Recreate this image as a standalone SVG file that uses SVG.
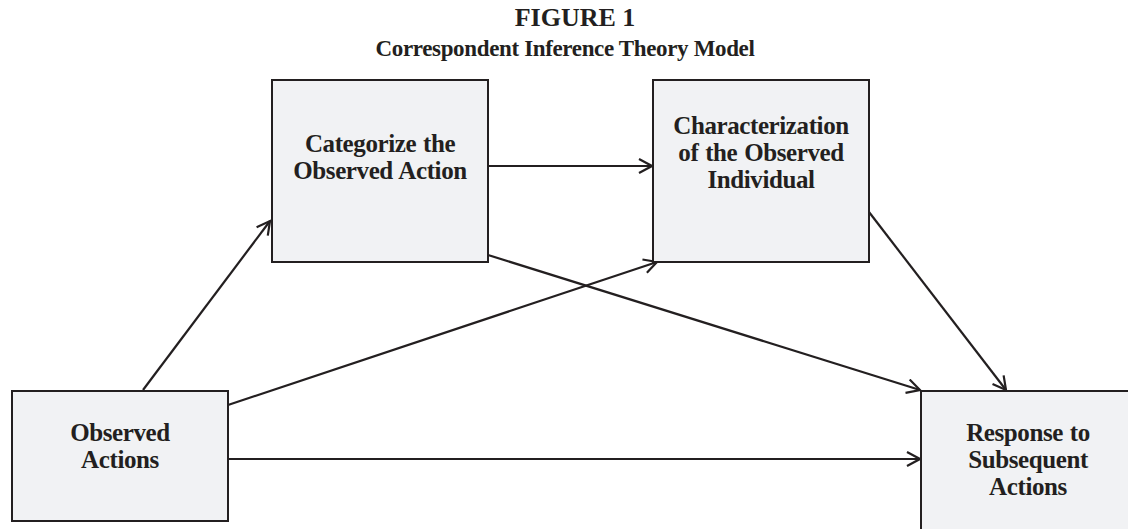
<svg xmlns="http://www.w3.org/2000/svg" width="1128" height="529" viewBox="0 0 1128 529">
<style>
.box{fill:#f1f2f4;stroke:#231f20;stroke-width:2}
.lbl{font-family:"Liberation Serif","Times New Roman",serif;font-weight:bold;font-size:25px;letter-spacing:-0.4px;word-spacing:1px;fill:#231f20;text-anchor:middle}
.ttl{font-family:"Liberation Serif","Times New Roman",serif;font-weight:bold;fill:#231f20;text-anchor:middle}
.edge{stroke:#231f20;stroke-width:2.2;fill:none;marker-end:url(#arr)}
</style>
<defs>
<marker id="arr" markerWidth="16" markerHeight="16" refX="14" refY="8" orient="auto" markerUnits="userSpaceOnUse">
<path d="M1,1 L14,8 L1,15" fill="none" stroke="#231f20" stroke-width="2.2"/>
</marker>
</defs>
<rect width="1128" height="529" fill="#ffffff"/>
<g id="title">
<text class="ttl" x="575" y="26" font-size="26">FIGURE 1</text>
<text class="ttl" x="565" y="56" font-size="23" letter-spacing="-0.35">Correspondent Inference Theory Model</text>
</g>
<g id="connectors">
<line class="edge" x1="143" y1="390" x2="270" y2="221"/>
<line class="edge" x1="488" y1="166" x2="652" y2="166"/>
<line class="edge" x1="488" y1="255" x2="920" y2="390"/>
<line class="edge" x1="228" y1="405" x2="657" y2="262"/>
<line class="edge" x1="869" y1="212" x2="1006" y2="390"/>
<line class="edge" x1="228" y1="459" x2="920" y2="459"/>
</g>
<g id="node-categorize">
<rect class="box" x="272" y="80" width="216" height="182"/>
<text class="lbl" x="380" y="152">Categorize the</text>
<text class="lbl" x="380" y="179">Observed Action</text>
</g>
<g id="node-characterization">
<rect class="box" x="653" y="80" width="216" height="182"/>
<text class="lbl" x="761" y="134">Characterization</text>
<text class="lbl" x="761" y="161">of the Observed</text>
<text class="lbl" x="761" y="188">Individual</text>
</g>
<g id="node-observed">
<rect class="box" x="12" y="391" width="216" height="130"/>
<text class="lbl" x="120" y="441">Observed</text>
<text class="lbl" x="120" y="468">Actions</text>
</g>
<g id="node-response">
<rect class="box" x="921" y="391" width="216" height="150"/>
<text class="lbl" x="1028" y="441">Response to</text>
<text class="lbl" x="1028" y="468">Subsequent</text>
<text class="lbl" x="1028" y="495">Actions</text>
</g>
</svg>
